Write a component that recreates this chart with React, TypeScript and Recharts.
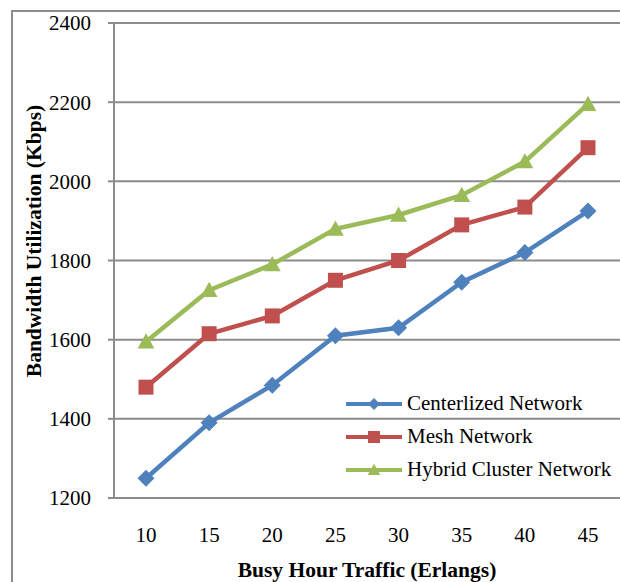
import React from 'react';
import { LineChart, Line, XAxis, YAxis, CartesianGrid, Legend, Label } from 'recharts';

const traffic = [10, 15, 20, 25, 30, 35, 40, 45];
const centralized = [1250, 1390, 1485, 1610, 1630, 1745, 1820, 1925];
const mesh = [1480, 1615, 1660, 1750, 1800, 1890, 1935, 2085];
const hybrid = [1595, 1725, 1790, 1880, 1915, 1965, 2050, 2195];
const yTicks = [1200, 1400, 1600, 1800, 2000, 2200, 2400];

const data = traffic.map((t, i) => ({
  traffic: t,
  centralized: centralized[i],
  mesh: mesh[i],
  hybrid: hybrid[i],
}));

const BLUE = '#4f81bd';
const RED = '#c0504d';
const GREEN = '#9bbb59';
const GRID = '#8c8c8c';
const FONT = 'Liberation Serif, serif';

const markerPath = (kind: string, cx: number, cy: number, s: number) => {
  if (kind === 'diamond') return `M${cx},${cy - s}L${cx + s},${cy}L${cx},${cy + s}L${cx - s},${cy}Z`;
  if (kind === 'square') return `M${cx - s},${cy - s}H${cx + s}V${cy + s}H${cx - s}Z`;
  return `M${cx},${cy - s * 1.05}L${cx + s * 1.05},${cy + s * 0.85}H${cx - s * 1.05}Z`;
};

const makeDot = (kind: string, color: string, size: number) => (props: any) => {
  const { cx, cy, index } = props;
  if (cx == null || cy == null) return <g key={index} />;
  return <path key={index} d={markerPath(kind, cx, cy, size)} fill={color} />;
};

const series = [
  { key: 'centralized', name: 'Centerlized Network', color: BLUE, kind: 'diamond', size: 8.5 },
  { key: 'mesh', name: 'Mesh Network', color: RED, kind: 'square', size: 7.5 },
  { key: 'hybrid', name: 'Hybrid Cluster Network', color: GREEN, kind: 'triangle', size: 8 },
];

const renderLegend = () => (
  <div style={{ fontFamily: FONT, fontSize: 21, color: '#000' }}>
    {series.map((s) => (
      <div key={s.key} style={{ display: 'flex', alignItems: 'center', height: 33 }}>
        <svg width={58} height={20} style={{ marginRight: 3 }}>
          <line x1={0} y1={10} x2={56} y2={10} stroke={s.color} strokeWidth={4} />
          <path d={markerPath(s.kind, 28, 10, 6)} fill={s.color} />
        </svg>
        <span>{s.name}</span>
      </div>
    ))}
  </div>
);

// y title sits a little above the plot's middle in the original
const renderYTitle = () => (
  <text
    x={34}
    y={241}
    transform="rotate(-90 34 241)"
    textAnchor="middle"
    dominantBaseline="central"
    fontSize={21.5}
    fontFamily={FONT}
    fontWeight="bold"
    fill="#000"
  >
    Bandwidth Utilization (Kbps)
  </text>
);

export default function App() {
  return (
    <div style={{ position: 'absolute', left: 0, top: 0, width: 620, height: 582, overflow: 'hidden', background: '#fff', fontFamily: FONT }}>
      <div
        style={{
          position: 'absolute',
          left: 11,
          top: 10,
          width: 700,
          height: 700,
          border: `2px solid ${GRID}`,
        }}
      />
      <div style={{ position: 'absolute', left: 0, top: 0 }}>
        <LineChart width={620} height={582} data={data} margin={{ top: 23, right: 0, bottom: 0, left: 14 }}>
          <CartesianGrid vertical={false} stroke={GRID} strokeWidth={2} />
          <XAxis
            dataKey="traffic"
            type="category"
            padding={{ left: 32, right: 32 }}
            axisLine={{ stroke: GRID, strokeWidth: 2 }}
            tickLine={false}
            tickSize={0}
            tickMargin={29}
            height={84}
            tick={{ fill: '#000', fontSize: 21, fontFamily: FONT }}
          >
            <Label
              value="Busy Hour Traffic (Erlangs)"
              position="insideBottom"
              offset={5}
              fontSize={21.5}
              fontFamily={FONT}
              fontWeight="bold"
              fill="#000"
            />
          </XAxis>
          <YAxis
            domain={[1200, 2400]}
            ticks={yTicks}
            interval={0}
            width={100}
            axisLine={{ stroke: GRID, strokeWidth: 2 }}
            tickLine={{ stroke: GRID, strokeWidth: 2 }}
            tickSize={6}
            tickMargin={17}
            tick={{ fill: '#000', fontSize: 21, fontFamily: FONT }}
          >
            <Label content={renderYTitle} />
          </YAxis>
          <Legend
            content={renderLegend}
            layout="vertical"
            verticalAlign="middle"
            align="center"
            wrapperStyle={{ position: 'absolute', left: 346, top: 387, width: 274 }}
          />
          {series.map((s) => (
            <Line
              key={s.key}
              dataKey={s.key}
              name={s.name}
              stroke={s.color}
              strokeWidth={4.5}
              dot={makeDot(s.kind, s.color, s.size)}
              activeDot={false}
              isAnimationActive={false}
            />
          ))}
        </LineChart>
      </div>
    </div>
  );
}
